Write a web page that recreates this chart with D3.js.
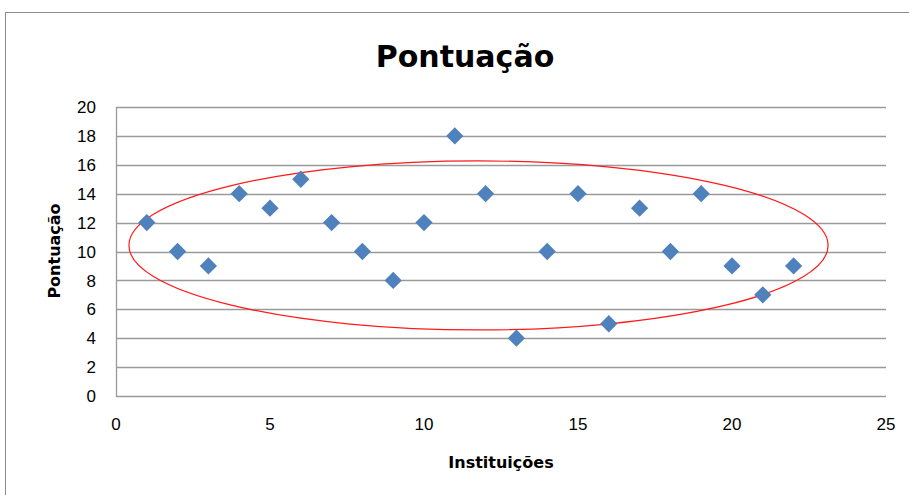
<!DOCTYPE html>
<html>
<head>
<meta charset="utf-8">
<script src="https://cdn.jsdelivr.net/npm/d3@7"></script>
<style>
  body { margin: 0; background: #fff; }
  svg { display: block; }
</style>
</head>
<body>
<svg id="chart"></svg>
<script>
// Institution numbers and their scores
var instituicoes = [1, 2, 3, 4, 5, 6, 7, 8, 9, 10, 11, 12, 13, 14, 15, 16, 17, 18, 19, 20, 21, 22];
var pontuacao = [12, 10, 9, 14, 13, 15, 12, 10, 8, 12, 18, 14, 4, 10, 14, 5, 13, 10, 14, 9, 7, 9];

// Tick labels
var xTicks = [0, 5, 10, 15, 20, 25];
var yTicks = [0, 2, 4, 6, 8, 10, 12, 14, 16, 18, 20];

// Hand drawn ellipse (centre and radii in data units)
var ellipseCentre = [11.77, 10.42];
var ellipseRadii = [11.35, 5.85];

var width = 909,
    height = 495;

var plot = { left: 116, right: 886, top: 107, bottom: 396 };

var svg = d3.select("#chart")
  .attr("width", width)
  .attr("height", height);

// Outer chart frame
svg.append("rect")
  .attr("x", 5.5)
  .attr("y", 12.5)
  .attr("width", 950)
  .attr("height", 550)
  .attr("fill", "#fff")
  .attr("stroke", "#8c8c8c")
  .attr("stroke-width", 1);

var x = d3.scaleLinear().domain([0, 25]).range([plot.left, plot.right]);
var y = d3.scaleLinear().domain([0, 20]).range([plot.bottom, plot.top]);

// Horizontal gridlines
svg.append("g")
  .selectAll("line")
  .data(yTicks)
  .enter().append("line")
  .attr("x1", plot.left)
  .attr("x2", plot.right)
  .attr("y1", function(d) { return Math.round(y(d)) + 0.5; })
  .attr("y2", function(d) { return Math.round(y(d)) + 0.5; })
  .attr("stroke", "#9a9a9a")
  .attr("stroke-width", 1.3);

// Left axis line
svg.append("line")
  .attr("x1", plot.left + 0.5)
  .attr("x2", plot.left + 0.5)
  .attr("y1", plot.top)
  .attr("y2", plot.bottom + 1)
  .attr("stroke", "#9a9a9a")
  .attr("stroke-width", 1.3);

// Y tick labels
svg.append("g")
  .selectAll("text")
  .data(yTicks)
  .enter().append("text")
  .attr("x", 96)
  .attr("y", function(d) { return y(d); })
  .attr("dy", "0.36em")
  .attr("text-anchor", "end")
  .style("font-family", "Liberation Sans, Arial, sans-serif")
  .style("font-size", "17px")
  .attr("fill", "#000")
  .text(function(d) { return d; });

// X tick labels
svg.append("g")
  .selectAll("text")
  .data(xTicks)
  .enter().append("text")
  .attr("x", function(d) { return x(d); })
  .attr("y", 424)
  .attr("dy", "0.36em")
  .attr("text-anchor", "middle")
  .style("font-family", "Liberation Sans, Arial, sans-serif")
  .style("font-size", "17px")
  .attr("fill", "#000")
  .text(function(d) { return d; });

// Title
svg.append("text")
  .attr("x", 465)
  .attr("y", 67)
  .attr("text-anchor", "middle")
  .style("font-family", "DejaVu Sans, sans-serif")
  .style("font-size", "30px")
  .attr("font-weight", "bold")
  .text("Pontuação");

// Axis titles
svg.append("text")
  .attr("x", 501)
  .attr("y", 462)
  .attr("dy", "0.36em")
  .attr("text-anchor", "middle")
  .style("font-family", "DejaVu Sans, sans-serif")
  .style("font-size", "16px")
  .attr("font-weight", "bold")
  .text("Instituições");

svg.append("text")
  .attr("transform", "translate(54,251) rotate(-90)")
  .attr("dy", "0.36em")
  .attr("text-anchor", "middle")
  .style("font-family", "DejaVu Sans, sans-serif")
  .style("font-size", "16px")
  .attr("font-weight", "bold")
  .text("Pontuação");

// Red ellipse
svg.append("ellipse")
  .attr("cx", x(ellipseCentre[0]))
  .attr("cy", y(ellipseCentre[1]))
  .attr("rx", x(ellipseRadii[0]) - x(0))
  .attr("ry", y(0) - y(ellipseRadii[1]))
  .attr("fill", "none")
  .attr("stroke", "#ff1a1a")
  .attr("stroke-width", 1.2);

// Diamond markers
var diamond = d3.symbol().type(d3.symbolDiamond2).size(190);

svg.append("g")
  .selectAll("path")
  .data(pontuacao)
  .enter().append("path")
  .attr("d", diamond)
  .attr("transform", function(d, i) {
    return "translate(" + x(instituicoes[i]) + "," + y(d) + ")";
  })
  .attr("fill", "#4f81bd");
</script>
</body>
</html>
